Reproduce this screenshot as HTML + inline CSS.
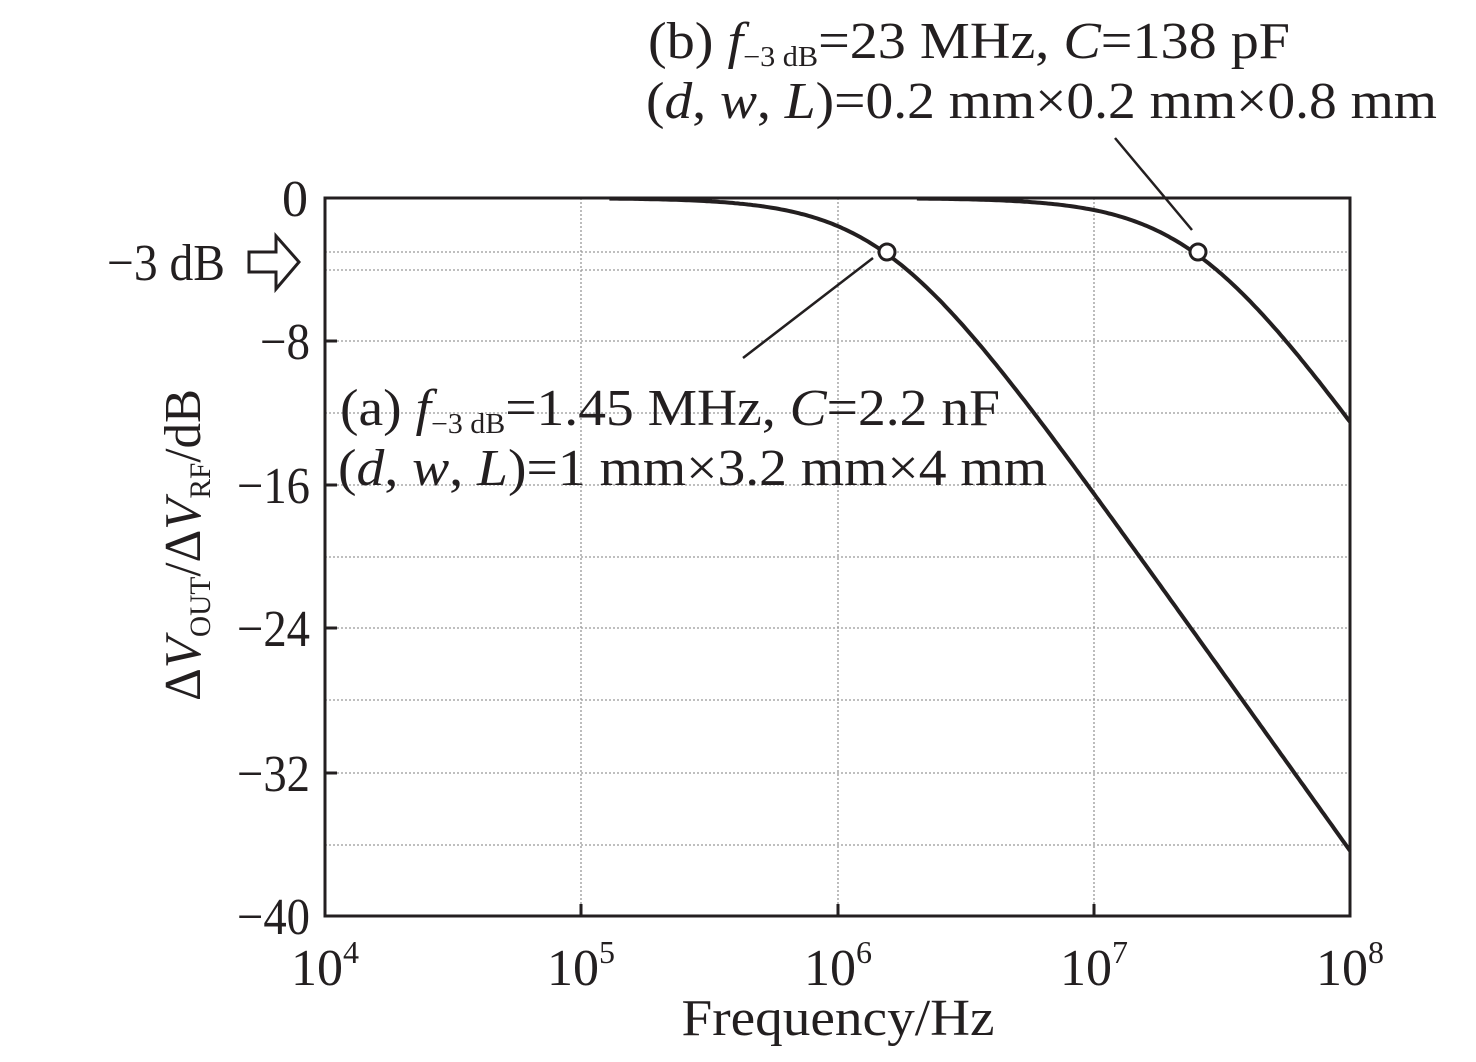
<!DOCTYPE html>
<html><head><meta charset="utf-8"><style>
html,body{margin:0;padding:0;background:#fff}
svg text{font-family:"Liberation Serif",serif;fill:#231f20}
</style></head><body>
<svg id="s" width="1476" height="1057" viewBox="0 0 1476 1057" xmlns="http://www.w3.org/2000/svg">
<g stroke="#999" stroke-width="1.3" stroke-dasharray="2,2" fill="none">
<line x1="325" y1="252" x2="1350" y2="252"/>
<line x1="325" y1="270" x2="1350" y2="270"/>
<line x1="325" y1="341" x2="1350" y2="341"/>
<line x1="325" y1="413" x2="1350" y2="413"/>
<line x1="325" y1="485" x2="1350" y2="485"/>
<line x1="325" y1="557" x2="1350" y2="557"/>
<line x1="325" y1="628" x2="1350" y2="628"/>
<line x1="325" y1="700" x2="1350" y2="700"/>
<line x1="325" y1="773" x2="1350" y2="773"/>
<line x1="325" y1="845" x2="1350" y2="845"/>
<line x1="581" y1="198" x2="581" y2="916"/>
<line x1="838" y1="198" x2="838" y2="916"/>
<line x1="1094" y1="198" x2="1094" y2="916"/>
</g>
<rect x="325" y="198" width="1025" height="718" fill="none" stroke="#231f20" stroke-width="3"/>
<g stroke="#231f20" stroke-width="3">
<line x1="325" y1="341" x2="337" y2="341"/><line x1="325" y1="485" x2="337" y2="485"/>
<line x1="325" y1="628" x2="337" y2="628"/><line x1="325" y1="773" x2="337" y2="773"/>
<line x1="581" y1="916" x2="581" y2="904"/><line x1="838" y1="916" x2="838" y2="904"/>
<line x1="1094" y1="916" x2="1094" y2="904"/>
</g>
<path id="ca" fill="none" stroke="#231f20" stroke-width="4"/>
<path id="cb" fill="none" stroke="#231f20" stroke-width="4"/>
<g stroke="#231f20" stroke-width="2.5">
<line x1="743" y1="358" x2="873" y2="258"/>
<line x1="1115" y1="138" x2="1192" y2="230"/>
</g>
<circle cx="887" cy="252" r="8" fill="#fff" stroke="#231f20" stroke-width="3"/>
<circle cx="1198" cy="252" r="8" fill="#fff" stroke="#231f20" stroke-width="3"/>
<path d="M249,252 L249,272 L276,272 L276,289 L299,262 L276,236 L276,252 Z" fill="#fff" stroke="#231f20" stroke-width="3"/>
<g font-size="52" text-anchor="end" lengthAdjust="spacingAndGlyphs">
<text x="308" y="216">0</text>
<text x="225" y="280" textLength="118" lengthAdjust="spacingAndGlyphs">−3 dB</text>
<text x="310" y="359" textLength="50" lengthAdjust="spacingAndGlyphs">−8</text>
<text x="310" y="503" textLength="73" lengthAdjust="spacingAndGlyphs">−16</text>
<text x="310" y="646" textLength="73" lengthAdjust="spacingAndGlyphs">−24</text>
<text x="310" y="791" textLength="73" lengthAdjust="spacingAndGlyphs">−32</text>
<text x="310" y="934" textLength="73" lengthAdjust="spacingAndGlyphs">−40</text>
</g>
<g font-size="52" text-anchor="middle">
<text x="325" y="985">10<tspan font-size="32" dy="-22">4</tspan></text>
<text x="581" y="985">10<tspan font-size="32" dy="-22">5</tspan></text>
<text x="838" y="985">10<tspan font-size="32" dy="-22">6</tspan></text>
<text x="1094" y="985">10<tspan font-size="32" dy="-22">7</tspan></text>
<text x="1350" y="985">10<tspan font-size="32" dy="-22">8</tspan></text>
<text x="838" y="1035" textLength="313" lengthAdjust="spacingAndGlyphs">Frequency/Hz</text>
</g>
<text font-size="52" transform="translate(200,545) rotate(-90)" text-anchor="middle" textLength="312" lengthAdjust="spacingAndGlyphs">Δ<tspan font-style="italic">V</tspan><tspan font-size="30" dy="10">OUT</tspan><tspan dy="-10">/Δ</tspan><tspan font-style="italic">V</tspan><tspan font-size="30" dy="10">RF</tspan><tspan dy="-10">/dB</tspan></text>
<text font-size="52" x="340" y="425" textLength="660" lengthAdjust="spacingAndGlyphs">(a) <tspan font-style="italic">f</tspan><tspan font-size="28" dy="8">−3 dB</tspan><tspan dy="-8">=1.45 MHz, </tspan><tspan font-style="italic">C</tspan>=2.2 nF</text>
<text font-size="52" x="338" y="485" textLength="709" lengthAdjust="spacingAndGlyphs">(<tspan font-style="italic">d</tspan>, <tspan font-style="italic">w</tspan>, <tspan font-style="italic">L</tspan>)=1 mm×3.2 mm×4 mm</text>
<text font-size="52" x="648" y="58" textLength="642" lengthAdjust="spacingAndGlyphs">(b) <tspan font-style="italic">f</tspan><tspan font-size="28" dy="8">−3 dB</tspan><tspan dy="-8">=23 MHz, </tspan><tspan font-style="italic">C</tspan>=138 pF</text>
<text font-size="52" x="646" y="118" textLength="791" lengthAdjust="spacingAndGlyphs">(<tspan font-style="italic">d</tspan>, <tspan font-style="italic">w</tspan>, <tspan font-style="italic">L</tspan>)=0.2 mm×0.2 mm×0.8 mm</text>
</svg>
<script>
function mk(fc,id){var d="";for(var i=0;i<=400;i++){var lf=4+4*i/400,f=Math.pow(10,lf);var db=-10*Math.log10(1+Math.pow(f/fc,2));if(db>-0.03)continue;var x=325+(lf-4)*256.25,y=198-db*17.95;d+=(d?"L":"M")+x.toFixed(1)+","+y.toFixed(1);}document.getElementById(id).setAttribute("d",d);}
mk(1.52e6,"ca");mk(2.45e7,"cb");
</script>
</body></html>
